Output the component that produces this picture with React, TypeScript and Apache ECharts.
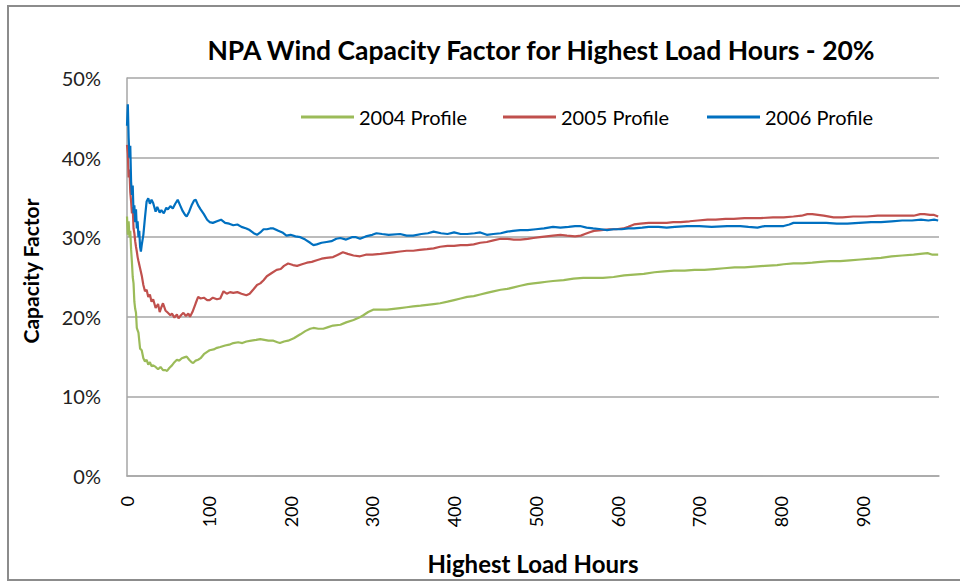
import React, { useEffect, useRef } from "react";
import * as echarts from "echarts";

const TITLE = "NPA Wind Capacity Factor for Highest Load Hours - 20%";
const X_NAME = "Highest Load Hours";
const Y_NAME = "Capacity Factor";
const SERIES_NAMES = ["2004 Profile", "2005 Profile", "2006 Profile"];
const X_TICKS = [0, 100, 200, 300, 400, 500, 600, 700, 800, 900];
const Y_TICKS = [0, 10, 20, 30, 40, 50];

const hours2004 = [0, 1, 2, 3, 4, 5, 6, 7, 8, 9, 10, 11, 12, 13, 14, 16, 18, 20, 22, 24, 26, 28, 30, 32, 35, 38, 41, 44, 47, 49, 52, 55, 58, 61, 64, 67, 70, 73, 76, 79, 81, 84, 87, 90, 94, 98, 101, 106, 110, 114, 120, 125, 130, 136, 141, 146, 152, 158, 163, 168, 173, 179, 184, 187, 192, 197, 204, 212, 218, 224, 228, 234, 240, 246, 252, 261, 268, 277, 284, 289, 295, 301, 310, 318, 326, 334, 342, 350, 359, 367, 375, 383, 392, 400, 408, 416, 424, 432, 440, 448, 457, 465, 473, 481, 490, 497, 505, 513, 521, 534, 546, 558, 570, 582, 595, 608, 620, 632, 645, 657, 669, 682, 694, 706, 718, 730, 743, 755, 767, 780, 795, 803, 815, 826, 838, 848, 860, 872, 884, 897, 910, 922, 935, 948, 962, 970, 979, 985, 992];
const cf2004 = [32.6, 30.3, 32.0, 30.0, 30.8, 28.5, 26.9, 25.0, 24.2, 21.9, 21.0, 20.5, 18.6, 18.3, 18.0, 16.0, 15.8, 14.8, 14.4, 14.6, 14.0, 14.3, 13.8, 13.9, 13.7, 13.4, 13.7, 13.3, 13.3, 13.2, 13.6, 13.9, 14.3, 14.6, 14.5, 14.8, 14.9, 15.0, 14.6, 14.3, 14.2, 14.5, 14.6, 14.8, 15.3, 15.6, 15.8, 15.9, 16.1, 16.2, 16.4, 16.5, 16.7, 16.8, 16.7, 16.9, 17.0, 17.1, 17.2, 17.1, 17.0, 17.0, 16.8, 16.7, 16.9, 17.0, 17.3, 17.8, 18.2, 18.5, 18.6, 18.5, 18.5, 18.7, 18.9, 19.0, 19.3, 19.6, 19.9, 20.2, 20.6, 20.9, 20.9, 20.9, 21.0, 21.1, 21.2, 21.3, 21.4, 21.5, 21.6, 21.7, 21.9, 22.1, 22.3, 22.5, 22.6, 22.8, 23.0, 23.2, 23.4, 23.5, 23.7, 23.9, 24.1, 24.2, 24.3, 24.4, 24.5, 24.6, 24.8, 24.9, 24.9, 24.9, 25.0, 25.2, 25.3, 25.4, 25.6, 25.7, 25.8, 25.8, 25.9, 25.9, 26.0, 26.1, 26.2, 26.2, 26.3, 26.4, 26.5, 26.6, 26.7, 26.7, 26.8, 26.9, 27.0, 27.0, 27.1, 27.2, 27.3, 27.4, 27.6, 27.7, 27.8, 27.9, 28.0, 27.8, 27.8];

const hours2005 = [0, 1, 2, 3, 4, 5, 6, 7, 8, 9, 10, 11, 12, 13, 14, 16, 18, 20, 22, 24, 26, 28, 30, 32, 35, 38, 40, 42, 44, 47, 50, 53, 55, 58, 61, 63, 66, 69, 72, 75, 77, 80, 84, 87, 90, 94, 98, 101, 105, 110, 114, 118, 122, 126, 130, 135, 140, 146, 150, 155, 159, 163, 167, 171, 177, 183, 188, 192, 197, 203, 208, 214, 220, 226, 232, 238, 244, 252, 258, 264, 270, 277, 285, 292, 300, 310, 318, 326, 334, 342, 350, 358, 367, 375, 383, 392, 400, 408, 416, 424, 432, 440, 448, 457, 465, 473, 481, 490, 497, 505, 513, 521, 530, 538, 548, 555, 560, 565, 571, 580, 590, 598, 607, 613, 620, 628, 638, 650, 660, 668, 677, 688, 698, 710, 720, 732, 742, 755, 765, 775, 790, 803, 815, 825, 832, 838, 845, 852, 864, 875, 888, 905, 918, 930, 945, 962, 970, 975, 982, 987, 992];
const cf2005 = [41.6, 40.5, 37.5, 38.5, 35.7, 34.5, 33.0, 33.8, 31.1, 30.5, 29.5, 28.8, 28.2, 27.5, 27.0, 26.1, 25.2, 24.0, 23.2, 23.4, 22.5, 22.8, 21.9, 22.2, 21.1, 21.6, 20.6, 21.2, 21.7, 20.8, 20.5, 20.2, 20.4, 19.9, 20.3, 19.8, 20.2, 20.5, 20.1, 20.4, 20.0, 20.6, 21.7, 22.5, 22.3, 22.4, 22.1, 22.1, 22.4, 22.2, 22.3, 23.2, 22.9, 23.1, 23.0, 23.1, 22.9, 22.7, 22.9, 23.5, 24.0, 24.2, 24.6, 25.1, 25.5, 25.9, 26.0, 26.4, 26.7, 26.5, 26.4, 26.6, 26.8, 26.9, 27.1, 27.3, 27.4, 27.5, 27.8, 28.1, 27.9, 27.7, 27.6, 27.8, 27.8, 27.9, 28.0, 28.1, 28.2, 28.3, 28.3, 28.4, 28.5, 28.6, 28.8, 28.9, 28.9, 29.0, 29.0, 29.1, 29.3, 29.4, 29.6, 29.8, 29.8, 29.7, 29.7, 29.8, 29.9, 30.0, 30.1, 30.2, 30.3, 30.2, 30.1, 30.2, 30.4, 30.6, 30.8, 30.9, 31.0, 31.0, 31.1, 31.3, 31.6, 31.7, 31.8, 31.8, 31.8, 31.9, 31.9, 32.0, 32.1, 32.2, 32.2, 32.3, 32.3, 32.4, 32.4, 32.4, 32.5, 32.5, 32.6, 32.7, 32.9, 32.9, 32.8, 32.7, 32.5, 32.5, 32.6, 32.6, 32.7, 32.7, 32.7, 32.7, 32.9, 32.9, 32.8, 32.8, 32.6];

const hours2006 = [0, 1, 2, 3, 4, 5, 6, 7, 8, 9, 10, 11, 12, 13, 14, 15, 16, 17, 18, 20, 22, 24, 26, 28, 30, 32, 35, 37, 40, 42, 45, 48, 50, 53, 56, 59, 62, 65, 68, 71, 73, 76, 79, 82, 84, 87, 90, 94, 98, 101, 105, 110, 115, 120, 125, 130, 135, 140, 146, 150, 155, 159, 163, 167, 171, 175, 179, 185, 190, 195, 200, 206, 212, 218, 224, 228, 232, 238, 244, 250, 256, 261, 268, 275, 280, 285, 292, 300, 305, 312, 320, 334, 342, 350, 360, 368, 375, 384, 392, 400, 408, 416, 425, 432, 440, 448, 457, 465, 472, 481, 490, 500, 510, 521, 530, 540, 548, 554, 562, 570, 580, 587, 595, 605, 613, 620, 630, 638, 650, 660, 670, 685, 700, 715, 734, 750, 760, 771, 780, 792, 803, 810, 815, 828, 840, 855, 868, 881, 895, 910, 922, 935, 948, 960, 971, 980, 987, 992];
const cf2006 = [44.0, 46.7, 42.5, 40.0, 41.5, 37.0, 35.3, 36.5, 33.0, 34.0, 31.9, 33.5, 31.1, 32.0, 30.0, 30.8, 28.8, 28.2, 29.0, 30.3, 32.5, 34.5, 34.9, 34.2, 34.7, 34.3, 33.2, 33.8, 33.1, 33.4, 33.0, 33.7, 33.5, 33.9, 33.6, 34.2, 34.7, 34.0, 33.3, 32.8, 32.6, 33.2, 34.0, 34.6, 34.7, 34.0, 33.5, 32.9, 32.2, 31.9, 31.8, 32.0, 32.2, 31.8, 31.7, 31.5, 31.6, 31.3, 31.1, 30.9, 30.5, 30.3, 30.6, 31.0, 31.0, 31.1, 31.1, 30.8, 30.6, 30.2, 30.3, 30.1, 30.0, 29.7, 29.3, 29.0, 29.1, 29.3, 29.4, 29.5, 29.8, 29.9, 29.7, 30.0, 30.0, 29.8, 30.1, 30.3, 30.5, 30.4, 30.3, 30.4, 30.2, 30.2, 30.4, 30.5, 30.7, 30.5, 30.4, 30.6, 30.4, 30.4, 30.5, 30.6, 30.3, 30.4, 30.5, 30.7, 30.8, 30.9, 30.9, 31.0, 31.1, 31.3, 31.2, 31.3, 31.4, 31.4, 31.2, 31.1, 31.0, 30.9, 31.0, 31.0, 31.1, 31.1, 31.2, 31.3, 31.3, 31.2, 31.3, 31.4, 31.4, 31.3, 31.4, 31.4, 31.3, 31.2, 31.4, 31.4, 31.4, 31.6, 31.8, 31.8, 31.8, 31.8, 31.7, 31.7, 31.8, 31.9, 31.9, 32.0, 32.1, 32.1, 32.2, 32.1, 32.2, 32.1];

const COLORS = ["#9BBB59", "#C0504D", "#0070C0"];
const FONT = "Lato, 'Open Sans', sans-serif";

const pairs = (xs: number[], ys: number[]) => xs.map((x, i) => [x, ys[i]]);

export default function App() {
  const ref = useRef<HTMLDivElement>(null);
  useEffect(() => {
    if (!ref.current) return;
    const chart = echarts.init(ref.current, null, { renderer: "svg" });
    const seriesData = [pairs(hours2004, cf2004), pairs(hours2005, cf2005), pairs(hours2006, cf2006)];
    const legendLefts = [296, 498, 702];
    chart.setOption({
      animation: false,
      backgroundColor: "#ffffff",
      title: {
        text: TITLE,
        left: 536,
        top: 31,
        textAlign: "center",
        textStyle: { fontFamily: FONT, fontSize: 26.5, fontWeight: "bold", color: "#000" },
      },
      legend: SERIES_NAMES.map((n, i) => ({
        data: [n],
        left: legendLefts[i],
        top: 102,
        icon: "rect",
        itemWidth: 53,
        itemHeight: 3,
        itemGap: 0,
        textStyle: { fontFamily: FONT, fontSize: 20, color: "#000" },
      })),
      grid: { left: 127, right: 21, top: 78, bottom: 105, containLabel: false },
      xAxis: {
        type: "value",
        min: 0,
        max: 993,
        interval: 100,
        axisLine: { show: true, lineStyle: { color: "#A6A6A6", width: 1.5 } },
        axisTick: { show: false },
        splitLine: { show: false },
        axisLabel: {
          rotate: 90,
          margin: 20,
          showMaxLabel: false,
          fontFamily: FONT,
          fontSize: 18,
          color: "#000",
          formatter: (v: number) => (X_TICKS.includes(v) ? String(v) : ""),
        },
      },
      yAxis: {
        type: "value",
        min: Y_TICKS[0],
        max: Y_TICKS[Y_TICKS.length - 1],
        interval: 10,
        axisLine: { show: true, lineStyle: { color: "#A6A6A6", width: 1.5 } },
        axisTick: { show: false },
        splitLine: { show: true, lineStyle: { color: "#A6A6A6", width: 1.5 } },
        axisLabel: {
          margin: 26,
          fontFamily: FONT,
          fontSize: 20,
          color: "#222",
          formatter: (v: number) => v + "%",
        },
      },
      graphic: [
        {
          type: "rect",
          silent: true,
          shape: { x: 8, y: 6, width: 960, height: 574 },
          style: { fill: "none", stroke: "#8C8C8C", lineWidth: 2 },
        },
        {
          type: "text",
          x: 30,
          y: 271,
          rotation: Math.PI / 2,
          style: {
            text: Y_NAME,
            fontFamily: FONT,
            fontSize: 21,
            fontWeight: "bold",
            fill: "#000",
            align: "center",
            verticalAlign: "middle",
          },
        },
        {
          type: "text",
          x: 533,
          y: 563,
          style: {
            text: X_NAME,
            fontFamily: FONT,
            fontSize: 24,
            fontWeight: "bold",
            fill: "#000",
            align: "center",
            verticalAlign: "middle",
          },
        },
      ],
      series: SERIES_NAMES.map((n, i) => ({
        name: n,
        type: "line",
        data: seriesData[i],
        showSymbol: false,
        symbol: "none",
        lineStyle: { color: COLORS[i], width: 2.2 },
        itemStyle: { color: COLORS[i] },
        z: 2 + i,
      })),
    });
    return () => chart.dispose();
  }, []);
  return (
    <div
      ref={ref}
      style={{ position: "absolute", left: 0, top: 0, width: 960, height: 581, background: "#fff" }}
    />
  );
}
